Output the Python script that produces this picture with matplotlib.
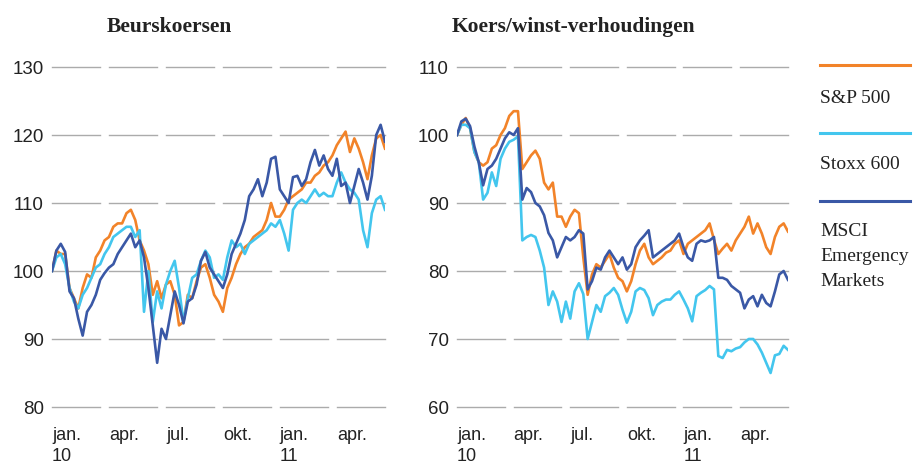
import matplotlib
matplotlib.use("Agg")
import matplotlib.pyplot as plt
import numpy as np

# weekly points, jan. 2010 (week 0) to mid june 2011 (week 76)
weeks = list(range(77))
quarter_labels = ["jan.\n10", "apr.", "jul.", "okt.", "jan.\n11", "apr."]

# Beurskoersen
sp500_koers = [100, 103, 102.5, 102.5, 97.5, 96, 94.5, 97.5, 99.5, 99, 102, 103, 104.5, 105, 106.5, 107,
               107, 108.5, 109, 107.5, 104.5, 103, 101, 96.5, 98.5, 96, 98, 98.5, 96.5, 92, 92.5, 96.5,
               96, 98.5, 100.5, 101, 99, 96.5, 95.5, 94, 97.5, 99, 101, 102.5, 103.5, 104, 105, 105.5,
               106, 107.5, 110, 108, 108, 109, 110.5, 111, 111.5, 112, 113, 113, 114, 114.5, 115.5, 116,
               117, 118.5, 119.5, 120.5, 117.5, 119.5, 118, 116, 113.5, 117, 119.5, 120, 118]
stoxx_koers = [100, 102, 102.5, 101, 97.5, 95.5, 94.5, 96.5, 97.5, 99, 100.5, 101, 102.5, 103.5, 105, 105.5,
               106, 106.5, 106.5, 105, 106, 94, 100, 92.5, 97, 94.5, 98, 100, 101.5, 97.5, 92.5, 96,
               99, 99.5, 101.5, 103, 102, 99, 99.5, 98.7, 102, 104.5, 103.5, 104, 102.5, 104, 104.5, 105,
               105.5, 106, 107, 106.5, 107.5, 105.5, 103, 109, 110, 110.5, 110, 111, 112, 111, 111.5, 111,
               111, 113, 114.5, 113, 112, 111.5, 110.5, 106, 103.5, 108.5, 110.5, 111, 109]
msci_koers = [100, 103, 104, 102.8, 97, 96, 93, 90.5, 94, 95, 96.5, 98.7, 99.7, 100.5, 101, 102.5,
              103.5, 104.5, 105.5, 103.5, 104.5, 102, 97.5, 92, 86.5, 91.5, 90, 93.5, 97, 95, 92.3, 95.5,
              96, 98, 101.5, 102.8, 100.5, 99.5, 98.5, 97.5, 99.5, 102.5, 104, 105.5, 107.5, 111, 112, 113.5,
              111, 113, 116.5, 116.8, 112, 111, 110, 113.8, 114, 112.5, 113.5, 116, 117.8, 115.5, 117, 115,
              114, 116.5, 112.5, 113, 110, 112.5, 115, 113, 110.5, 114, 120, 121.5, 119]

# Koers/winst-verhoudingen
sp500_kw = [100, 101.5, 102.5, 101, 97.5, 96, 95.5, 96, 98, 98.5, 100, 101, 102.8, 103.5, 103.5, 95,
            96, 97, 97.7, 96.5, 93, 92, 93, 88, 88, 86.5, 88, 89, 88.5, 82, 76.5, 79.5,
            81, 80.5, 81.5, 82.5, 80.5, 79, 78.5, 77, 78.5, 81, 83, 84, 82, 81, 81.5, 82,
            82.7, 83, 84, 84.5, 82.5, 84, 84.5, 85, 85.5, 86, 87, 84.6, 82.5, 83.3, 84, 83,
            84.5, 85.5, 86.5, 88, 85.5, 87, 85.5, 83.5, 82.5, 85, 86.5, 87, 85.8]
stoxx_kw = [100, 101.5, 101.5, 101, 97.5, 96, 90.5, 91.5, 94.5, 92.5, 96.5, 98, 99, 99.3, 99.8, 84.5,
            85, 85.3, 85, 83, 80.5, 75, 77, 75.5, 72.5, 75.5, 73, 77, 78.2, 76.6, 70, 72.5,
            75, 74, 76.3, 76.8, 77.5, 76.5, 74.3, 72.4, 74, 77, 77.5, 77.2, 76, 73.5, 75, 75.5,
            75.8, 75.8, 76.5, 77, 75.8, 74.5, 72.6, 76.3, 76.8, 77.2, 77.8, 77.3, 67.5, 67.2, 68.4, 68.2,
            68.6, 68.8, 69.5, 70, 70, 69.2, 68, 66.5, 65, 67.6, 67.8, 69, 68.4]
msci_kw = [100, 102, 102.4, 101.3, 98.3, 96, 92.6, 95, 95.5, 96.5, 98, 99.5, 100.4, 100, 101, 90.5,
           92.2, 91.6, 90, 89.5, 88.2, 85.6, 84.5, 82, 83.5, 85, 84.5, 85, 86, 85.5, 77.3, 78.5,
           80.5, 80.2, 82, 83, 82, 81, 82, 80.2, 81, 83.5, 84.5, 85.2, 86, 82, 82.5, 83,
           83.5, 84, 84.5, 85.5, 83.5, 82, 81.5, 84, 84.5, 84.3, 84.5, 85, 79, 79, 78.7, 77.8,
           77.3, 76.8, 74.5, 75.8, 76.3, 74.8, 76.5, 75.3, 74.8, 77, 79.5, 80, 78.7]

series_names = ["S&P 500", "Stoxx 600", "MSCI\nEmergency\nMarkets"]
colors = ["#F28329", "#43C6EE", "#3A58A6"]

serif = ["Liberation Serif", "DejaVu Serif"]
sans = ["Liberation Sans", "DejaVu Sans"]

fig = plt.figure(figsize=(9.22, 4.68), dpi=100)


def make_panel(rect, data, yticks, title, title_x):
    ax = fig.add_axes(rect)
    ax.set_xlim(0, 76)
    ax.set_ylim(yticks[0], yticks[-1])
    # gebroken rasterlijnen per kwartaal
    for y in yticks:
        for q in range(6):
            x0 = q * 13
            x1 = min(x0 + 10.95, 76)
            ax.plot([x0, x1], [y, y], color="#ababab", lw=1.0, clip_on=False, zorder=1)
    for vals, c in zip(data, colors):
        ax.plot(weeks, vals, color=c, lw=1.9, zorder=3, solid_joinstyle="round")
    for s in ax.spines.values():
        s.set_visible(False)
    ax.set_xticks([])
    ax.set_yticks(yticks)
    ax.set_yticklabels([str(t) for t in yticks], family=sans, fontsize=13.5, color="#222222")
    ax.tick_params(axis="y", length=0, pad=6)
    for q, lab in enumerate(quarter_labels):
        ax.text(q * 13, -0.06, lab, transform=ax.get_xaxis_transform(), ha="left", va="top",
                family=sans, fontsize=13, color="#222222", linespacing=1.3)
    fig.text(title_x, 1 - 27 / 468, title, ha="left", va="center", family=serif,
             fontsize=15.5, fontweight="bold", color="#222222")
    return ax


make_panel([52 / 922, 1 - 407 / 468, 333 / 922, 340 / 468],
           [sp500_koers, stoxx_koers, msci_koers], [80, 90, 100, 110, 120, 130],
           "Beurskoersen", 107 / 922)
make_panel([457 / 922, 1 - 407 / 468, 331 / 922, 340 / 468],
           [sp500_kw, stoxx_kw, msci_kw], [60, 70, 80, 90, 100, 110],
           "Koers/winst-verhoudingen", 452 / 922)

# legenda rechts
leg_line_y = [65, 133, 201]
leg_text_y = [90, 156, 223]
for name, c, ly, ty in zip(series_names, colors, leg_line_y, leg_text_y):
    fig.add_artist(plt.Line2D([820 / 922, 910 / 922], [1 - ly / 468, 1 - ly / 468],
                              color=c, lw=2.2, transform=fig.transFigure))
    fig.text(820 / 922, 1 - ty / 468, name, ha="left", va="top", family=serif,
             fontsize=14, color="#222222", linespacing=1.62)

fig.savefig("out.png", dpi=100)
